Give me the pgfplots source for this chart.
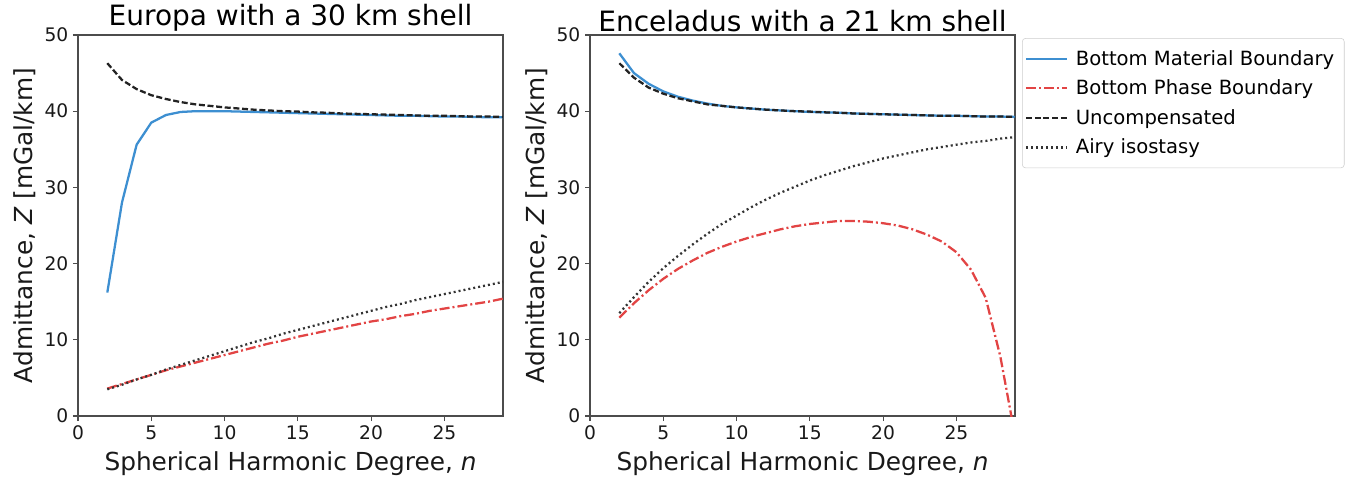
\documentclass[border=0pt]{standalone}
\usepackage{fontspec}
\setmainfont{DejaVu Sans}
\usepackage{pgfplots}
\pgfplotsset{compat=1.18}
\definecolor{cblue}{HTML}{3D8FD1}
\definecolor{cred}{HTML}{E24444}
\definecolor{cdark}{HTML}{222222}
\pgfplotsset{
  myax/.style={
    width=318.75pt, height=285.75pt, scale only axis,
    xmin=0, xmax=29, ymin=0, ymax=50,
    xtick={0,5,...,25}, ytick={0,10,...,50},
    tick align=outside, tick pos=left, major tick length=3.75pt,
    axis line style={black!70, line width=0.8pt},
    tick style={black!70, line width=0.8pt},
    ticklabel style={font=\fontsize{14}{16}\selectfont, text=black!90},
    /pgf/number format/assume math mode=true,
    title style={font=\fontsize{21}{24}\selectfont, yshift=-7pt},
    label style={font=\fontsize{18.6}{22}\selectfont, text=black!90},
    xlabel style={yshift=-2pt},
    xlabel={Spherical Harmonic Degree, \textit{n}},
    ylabel={Admittance, \textit{Z} [mGal/km]},
    every axis plot/.append style={line width=1.7pt},
    legend image code/.code={\draw[#1] (0pt,0pt) -- (31pt,0pt);},
  },
  sblue/.style={cblue, solid},
  sred/.style={cred, dash pattern=on 7.5pt off 2.25pt on 1.5pt off 2.25pt},
  sdash/.style={cdark, dash pattern=on 4.5pt off 2pt},
  sdot/.style={black!80, dash pattern=on 1.5pt off 2.25pt},
}
\pgfplotstableread{
n blue red unc airy
2 16.2 3.6 46.3 3.5
3 28.0 4.2 44.1 4.1
4 35.6 4.8 42.9 4.8
5 38.5 5.4 42.1 5.4
6 39.5 6.0 41.6 6.1
7 39.9 6.5 41.2 6.7
8 40.0 7.0 40.9 7.3
9 40.0 7.5 40.7 7.9
10 40.0 8.0 40.5 8.5
11 39.95 8.5 40.35 9.1
12 39.9 9.0 40.2 9.7
13 39.85 9.5 40.1 10.2
14 39.8 9.9 40.0 10.8
15 39.75 10.4 39.95 11.3
16 39.7 10.8 39.85 11.8
17 39.65 11.2 39.8 12.3
18 39.6 11.6 39.7 12.8
19 39.55 12.0 39.65 13.3
20 39.5 12.4 39.6 13.8
21 39.45 12.7 39.55 14.3
22 39.4 13.1 39.5 14.7
23 39.4 13.4 39.45 15.2
24 39.35 13.8 39.4 15.6
25 39.3 14.1 39.4 16.0
26 39.3 14.4 39.35 16.4
27 39.25 14.7 39.3 16.8
28 39.2 15.0 39.3 17.2
29 39.2 15.4 39.25 17.6
}\europa
\pgfplotstableread{
n blue red unc airy
2 47.6 12.9 46.3 13.5
3 45.0 14.8 44.4 15.6
4 43.6 16.5 43.1 17.6
5 42.6 18.0 42.3 19.4
6 41.9 19.3 41.7 21.0
7 41.4 20.4 41.3 22.5
8 41.0 21.4 40.9 23.9
9 40.7 22.2 40.7 25.2
10 40.5 22.9 40.5 26.3
11 40.35 23.5 40.35 27.4
12 40.2 24.0 40.2 28.4
13 40.1 24.5 40.1 29.3
14 40.0 24.9 40.0 30.1
15 39.9 25.2 39.95 30.9
16 39.85 25.4 39.85 31.6
17 39.8 25.6 39.8 32.2
18 39.7 25.6 39.7 32.8
19 39.65 25.5 39.65 33.3
20 39.6 25.3 39.6 33.8
21 39.55 25.0 39.55 34.2
22 39.5 24.5 39.5 34.6
23 39.45 23.8 39.45 35.0
24 39.4 22.9 39.4 35.3
25 39.4 21.5 39.4 35.6
26 39.35 19.2 39.35 35.9
27 39.3 15.5 39.3 36.1
28 39.3 7.8 39.3 36.4
29 39.25 -2.6 39.25 36.6
}\enceladus
\begin{document}
\begin{tikzpicture}
\useasboundingbox (-58.5pt,-51.75pt) rectangle (968.25pt,312pt);
\begin{axis}[myax, at={(0pt,0pt)}, anchor=south west,
  title={Europa with a 30 km shell}]
\addplot[sblue] table[x=n,y=blue] {\europa};
\addplot[sred] table[x=n,y=red] {\europa};
\addplot[sdash] table[x=n,y=unc] {\europa};
\addplot[sdot] table[x=n,y=airy] {\europa};
\end{axis}
\begin{axis}[myax, at={(384pt,0pt)}, anchor=south west,
  title={Enceladus with a 21 km shell},
  legend style={at={(1.0165,0.992)}, anchor=north west, draw=black!20,
    rounded corners=2.5pt, font=\fontsize{14.7}{17}\selectfont,
    row sep=5.5pt, inner xsep=2pt, inner ysep=7pt,
    nodes={inner xsep=5.5pt}},
  legend cell align=left]
\addplot[sblue] table[x=n,y=blue] {\enceladus};
\addlegendentry{Bottom Material Boundary}
\addplot[sred] table[x=n,y=red] {\enceladus};
\addlegendentry{Bottom Phase Boundary}
\addplot[sdash] table[x=n,y=unc] {\enceladus};
\addlegendentry{Uncompensated}
\addplot[sdot] table[x=n,y=airy] {\enceladus};
\addlegendentry{Airy isostasy}
\end{axis}
\end{tikzpicture}
\end{document}
